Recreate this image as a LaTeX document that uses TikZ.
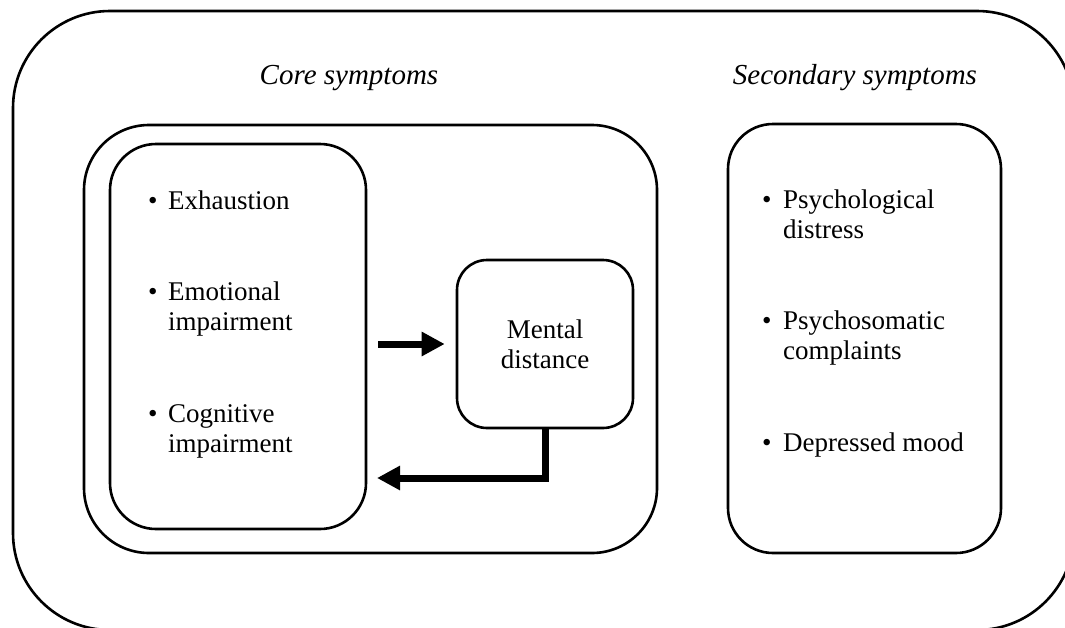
\documentclass[tikz,border=0pt]{standalone}
\usepackage{fontspec}
\setmainfont{Liberation Serif}
\usetikzlibrary{arrows.meta}
\begin{document}
\begin{tikzpicture}[x=1pt,y=-1pt,
  box/.style={draw, line width=2.6pt, inner sep=0pt},
  txt/.style={inner sep=0pt, font=\fontsize{27}{30}\selectfont},
  head/.style={inner sep=0pt, font=\fontsize{29}{32}\selectfont\itshape},
  item/.style={txt, align=left, anchor=base west},
  bul/.style={txt, anchor=base west},
  conn/.style={line width=7pt, -{Triangle[length=23pt,width=23pt]}}]
\useasboundingbox (0,0) rectangle (1065,627);
\clip (0,0) rectangle (1065,627);
% outer box
\node[box, rounded corners=97pt, minimum width=1061pt, minimum height=619pt] (outer) at (543.5,320.5) {};
% headings
\node[head, anchor=base] (hcore) at (349,84) {Core symptoms};
\node[head, anchor=base] (hsec) at (855,84) {Secondary symptoms};
% core box
\node[box, rounded corners=65pt, minimum width=573pt, minimum height=428pt] (core) at (370.5,339) {};
% left box
\node[box, rounded corners=46pt, minimum width=256pt, minimum height=385pt] (left) at (238,336.5) {};
% mental box
\node[box, rounded corners=30pt, minimum width=176pt, minimum height=168pt] (mental) at (545,344) {};
\node[txt, align=center, anchor=base] (mtext) at (545,368) {Mental\\distance};
% secondary box
\node[box, rounded corners=45pt, minimum width=273pt, minimum height=429pt] (sec) at (864.5,338.5) {};
% left items (anchor at baseline of last line)
\node[bul] (b1) at (148,209) {\textbullet};
\node[item] (i1) at (168,209) {Exhaustion};
\node[bul] (b2) at (148,300) {\textbullet};
\node[item] (i2) at (168,330) {Emotional\\impairment};
\node[bul] (b3) at (148,422) {\textbullet};
\node[item] (i3) at (168,452) {Cognitive\\impairment};
% right items
\node[bul] (b4) at (762,208) {\textbullet};
\node[item] (i4) at (783,238) {Psychological\\distress};
\node[bul] (b5) at (762,329) {\textbullet};
\node[item] (i5) at (783,359) {Psychosomatic\\complaints};
\node[bul] (b6) at (762,451) {\textbullet};
\node[item] (i6) at (783,451) {Depressed mood};
% arrows
\draw[conn, shorten <=11pt, shorten >=11pt] (left.east |- mental.west) -- (mental.west);
\coordinate (ret) at (366,478);
\draw[conn, shorten >=11pt] (mental.south) |- (ret);
\end{tikzpicture}
\end{document}
